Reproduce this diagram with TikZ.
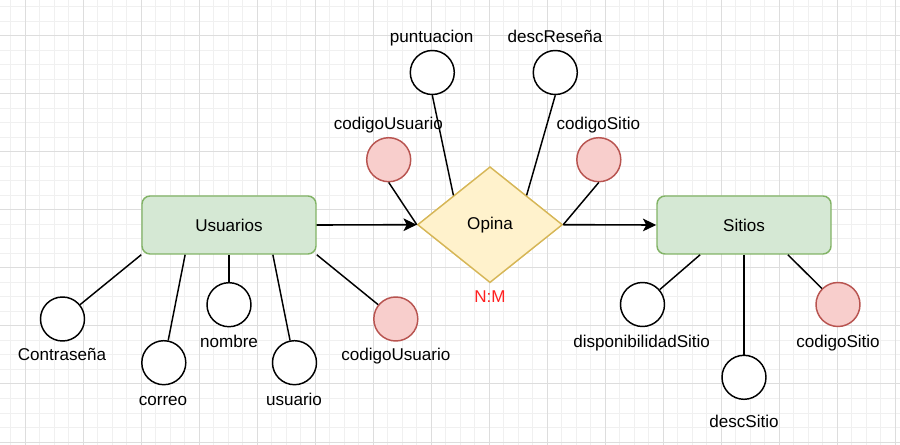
\documentclass[tikz,border=0pt]{standalone}
\usepackage{fontspec}
\setmainfont{Liberation Sans}
\usetikzlibrary{arrows.meta,positioning,shapes.geometric,calc}
\definecolor{entfill}{HTML}{D5E8D4}
\definecolor{entline}{HTML}{82B366}
\definecolor{relfill}{HTML}{FFF2CC}
\definecolor{relline}{HTML}{D6B656}
\definecolor{keyfill}{HTML}{F8CECC}
\definecolor{keyline}{HTML}{B85450}
\definecolor{gridminor}{HTML}{F0F0F0}
\definecolor{gridmajor}{HTML}{DDDDDD}
\definecolor{cardred}{HTML}{FF2020}
\tikzset{
    %Define standard arrow tip
    >={Stealth[length=10pt,width=9.5pt,inset=2.5pt]},
    %Define style for entity boxes
    entity/.style={
           rectangle,
           rounded corners=6pt,
           draw=entline, fill=entfill,
           line width=1.1pt,
           minimum width=130.5pt,
           minimum height=43.5pt,
           font=\fontsize{12.8}{15}\selectfont},
    %Define style for the relation
    relation/.style={
           diamond,
           draw=relline, fill=relfill,
           line width=1.1pt,
           inner sep=0pt,
           minimum width=108.75pt,
           minimum height=87pt,
           font=\fontsize{12.8}{15}\selectfont},
    %Define style for attributes
    attrib/.style={
           circle,
           draw=black, fill=white,
           line width=1.1pt,
           inner sep=0pt,
           minimum size=33pt},
    keyattrib/.style={
           attrib,
           draw=keyline, fill=keyfill},
    annote/.style={
          font=\fontsize{12.8}{15}\selectfont,
          inner sep=0pt,
          text height=0.72em,
          text depth=0pt
    },
    % Define arrow and line styles
    arrow/.style={
           ->,
           line width=1.2pt},
    link/.style={
           line width=1.1pt},
    gridline/.style={
           line width=0.75pt},
}
\begin{document}
\begin{tikzpicture}[x=0.75pt,y=-0.75pt]
  \useasboundingbox (0,0) rectangle (900,445);
  % background grid
  \foreach \i in {0,...,61}
    \draw[gridline, gridminor] ({10.8+14.5*\i},0) -- ++(0,445);
  \foreach \j in {0,...,30}
    \draw[gridline, gridminor] (0,{7+14.5*\j}) -- ++(900,0);
  \foreach \i in {0,...,15}
    \draw[gridline, gridmajor] ({25.3+58*\i},0) -- ++(0,445);
  \foreach \j in {0,...,7}
    \draw[gridline, gridmajor] (0,{36+58*\j}) -- ++(900,0);

  % entities and relation
  \node[entity]   (usuarios) at (229,225) {Usuarios};
  \node[relation] (opina)    at (490,224.7) {Opina};
  \node[entity]   (sitios)   at (744,225) {Sitios};
  \node[annote, text=cardred] (card) at (490,298) {N:M};

  % attributes of Usuarios
  \node[attrib]    (contr)   at (62.5,319)   {};
  \node[attrib]    (correo)  at (163.8,362.7) {};
  \node[attrib]    (nombre)  at (229,304.7)  {};
  \node[attrib]    (usuario) at (294.5,362.7) {};
  \node[keyattrib] (codusu)  at (395.8,319)  {};
  \node[annote] (contr-t)   at (62,356)    {Contraseña};
  \node[annote] (correo-t)  at (163,400.7) {correo};
  \node[annote] (nombre-t)  at (229,342.7) {nombre};
  \node[annote] (usuario-t) at (294,400.7) {usuario};
  \node[annote] (codusu-t)  at (395.8,356) {codigoUsuario};

  % attributes of Sitios
  \node[attrib]    (disp)   at (642.5,304.5) {};
  \node[attrib]    (descs)  at (744,377.3)   {};
  \node[keyattrib] (codsit) at (838,304.5)   {};
  \node[annote] (disp-t)   at (641.7,342.7) {disponibilidadSitio};
  \node[annote] (descs-t)  at (744,422.3)   {descSitio};
  \node[annote] (codsit-t) at (838,342.7)   {codigoSitio};

  % attributes of Opina
  \node[attrib]    (punt)    at (432.3,72.5) {};
  \node[attrib]    (descr)   at (555.3,72.5) {};
  \node[keyattrib] (opusu)   at (388.7,159.7) {};
  \node[keyattrib] (opsit)   at (598.8,159.7) {};
  \node[annote] (punt-t)  at (431.7,37.7)  {puntuacion};
  \node[annote] (descr-t) at (555,37.7)    {descReseña};
  \node[annote] (opusu-t) at (388.3,124.7) {codigoUsuario};
  \node[annote] (opsit-t) at (598.3,124.7) {codigoSitio};

  % points on the box bottoms and diamond edges
  \coordinate (usu-a) at ($(usuarios.south west)!0.25!(usuarios.south east)$);
  \coordinate (usu-b) at ($(usuarios.south west)!0.75!(usuarios.south east)$);
  \coordinate (sit-a) at ($(sitios.south west)!0.25!(sitios.south east)$);
  \coordinate (sit-b) at ($(sitios.south west)!0.75!(sitios.south east)$);
  \coordinate (op-nw) at ($(opina.west)!0.5!(opina.north)$);
  \coordinate (op-ne) at ($(opina.east)!0.5!(opina.north)$);

  \path (usuarios.south west) edge[link] (contr);
  \path (usu-a) edge[link] (correo);
  \path (usuarios.south) edge[link] (nombre);
  \path (usu-b) edge[link] (usuario);
  \path (usuarios.south east) edge[link] (codusu);
  \path (sit-a) edge[link] (disp);
  \path (sitios.south) edge[link] (descs);
  \path (sit-b) edge[link] (codsit);
  \path (punt.south) edge[link] (op-nw);
  \path (descr.south) edge[link] (op-ne);
  \path (opusu.south) edge[link] (opina.west);
  \path (opsit.south) edge[link] (opina.east);
  \path (usuarios.east) edge[arrow] (opina.west);
  \path (opina.east) edge[arrow] (sitios.west);
\end{tikzpicture}
\end{document}
